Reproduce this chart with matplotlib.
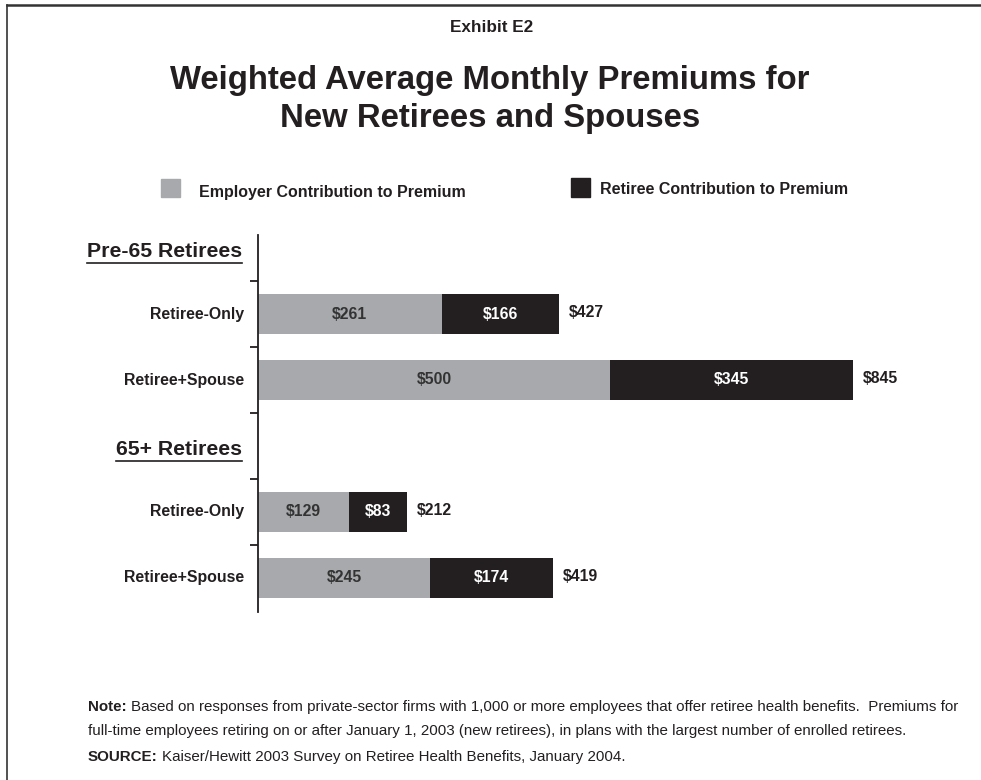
import matplotlib
matplotlib.use("Agg")
import matplotlib.pyplot as plt
from matplotlib.transforms import blended_transform_factory
from matplotlib.lines import Line2D
from matplotlib.patches import Rectangle

plt.rcParams['font.family'] = ['Liberation Sans', 'DejaVu Sans']

groups = ["Pre-65 Retirees", "65+ Retirees"]
categories = ["Retiree-Only", "Retiree+Spouse", "Retiree-Only", "Retiree+Spouse"]
employer = [261, 500, 129, 245]
retiree = [166, 345, 83, 174]
totals = [427, 845, 212, 419]
series_names = ["Employer Contribution to Premium", "Retiree Contribution to Premium"]

GRAY = "#a7a9ac"
BLACK = "#231f20"
TXT = "#231f20"

W, H = 981, 780
fig = plt.figure(figsize=(W / 100, H / 100), dpi=100)

# border (top and left)
fig.add_artist(Line2D([7 / W, 1], [1 - 5 / H, 1 - 5 / H], color="#333333", lw=1.8))
fig.add_artist(Line2D([7 / W, 7 / W], [0, 1 - 5 / H], color="#333333", lw=1.2))

# axes
ax_left = 258 / W
ax_w = 704 / W
ax_bottom = 1 - 612 / H
ax_h = 377 / H
ax = fig.add_axes([ax_left, ax_bottom, ax_w, ax_h])
ax.set_xlim(0, 1000)
ax.set_ylim(5.52, -0.2)

rows = [1, 2, 4, 5]
headers_pos = [0, 3]
bar_h = 0.6

ax.barh(rows, employer, height=bar_h, color=GRAY, zorder=2)
ax.barh(rows, retiree, left=employer, height=bar_h, color=BLACK, zorder=2)

VS = 11.3
for y, e, r, t in zip(rows, employer, retiree, totals):
    ax.text(e / 2, y, f"${e}", ha="center", va="center", fontsize=VS,
            fontweight="bold", color="#333333")
    ax.text(e + r / 2, y, f"${r}", ha="center", va="center", fontsize=VS,
            fontweight="bold", color="white")
    ax.text(t + 14, y - 0.025, f"${t}", ha="left", va="center", fontsize=VS,
            fontweight="bold", color=TXT)

for s in ["top", "right", "bottom"]:
    ax.spines[s].set_visible(False)
ax.spines["left"].set_color(TXT)
ax.spines["left"].set_linewidth(1.3)
ax.set_xticks([])
ax.set_yticks([0.5, 1.5, 2.5, 3.5, 4.5])
ax.set_yticklabels([])
ax.tick_params(axis="y", length=6, width=1.3, color=TXT)

trans = blended_transform_factory(fig.transFigure, ax.transData)
lab_x = 244 / W
for y, c in zip(rows, categories):
    ax.text(lab_x, y, c, transform=trans, ha="right", va="center",
            fontsize=11.4, fontweight="bold", color=TXT)

hdr_texts = []
for y, g in zip(headers_pos, groups):
    t = ax.text(242 / W, y + 0.055, g, transform=trans, ha="right", va="center",
                fontsize=15.3, fontweight="bold", color=TXT)
    hdr_texts.append(t)

# titles
fig.text(492 / W, 1 - 28 / H, "Exhibit E2", ha="center", va="center",
         fontsize=12.3, fontweight="bold", color=TXT)
fig.text(490 / W, 1 - 80 / H, "Weighted Average Monthly Premiums for",
         ha="center", va="center", fontsize=23.7, fontweight="bold", color=TXT)
fig.text(490 / W, 1 - 119 / H, "New Retirees and Spouses",
         ha="center", va="center", fontsize=23.7, fontweight="bold", color=TXT)

# legend
fig.add_artist(Rectangle((161 / W, 1 - 197 / H), 19 / W, 18 / H,
                         transform=fig.transFigure, color=GRAY))
fig.text(199 / W, 1 - 192 / H, series_names[0], ha="left", va="center",
         fontsize=11.5, fontweight="bold", color=TXT)
fig.add_artist(Rectangle((571 / W, 1 - 197 / H), 19 / W, 19 / H,
                         transform=fig.transFigure, color=BLACK))
fig.text(600 / W, 1 - 190 / H, series_names[1], ha="left", va="center",
         fontsize=11.5, fontweight="bold", color=TXT)

# notes
NS = 10.9
fig.canvas.draw()
r = fig.canvas.get_renderer()


def label_then_text(x_px, y_px, bold, rest):
    t1 = fig.text(x_px / W, 1 - y_px / H, bold, ha="left", va="center",
                  fontsize=NS, fontweight="bold", color=TXT)
    bb = t1.get_window_extent(renderer=r)
    fig.text((bb.x1 + 4) / W, 1 - y_px / H, rest, ha="left", va="center",
             fontsize=NS, color=TXT)


label_then_text(88, 707, "Note:",
                "Based on responses from private-sector firms with 1,000 or more employees that offer retiree health benefits.  Premiums for")
fig.text(88 / W, 1 - 731 / H,
         "full-time employees retiring on or after January 1, 2003 (new retirees), in plans with the largest number of enrolled retirees.",
         ha="left", va="center", fontsize=NS, color=TXT)
label_then_text(88, 757, "SOURCE:",
                "Kaiser/Hewitt 2003 Survey on Retiree Health Benefits, January 2004.")

# underline headers
for t in hdr_texts:
    bb = t.get_window_extent(renderer=r)
    yl = bb.y0 - 1.5
    fig.add_artist(Line2D([bb.x0 / W, bb.x1 / W], [yl / H, yl / H],
                          color=TXT, lw=1.2))

fig.savefig("out.png", dpi=100)
